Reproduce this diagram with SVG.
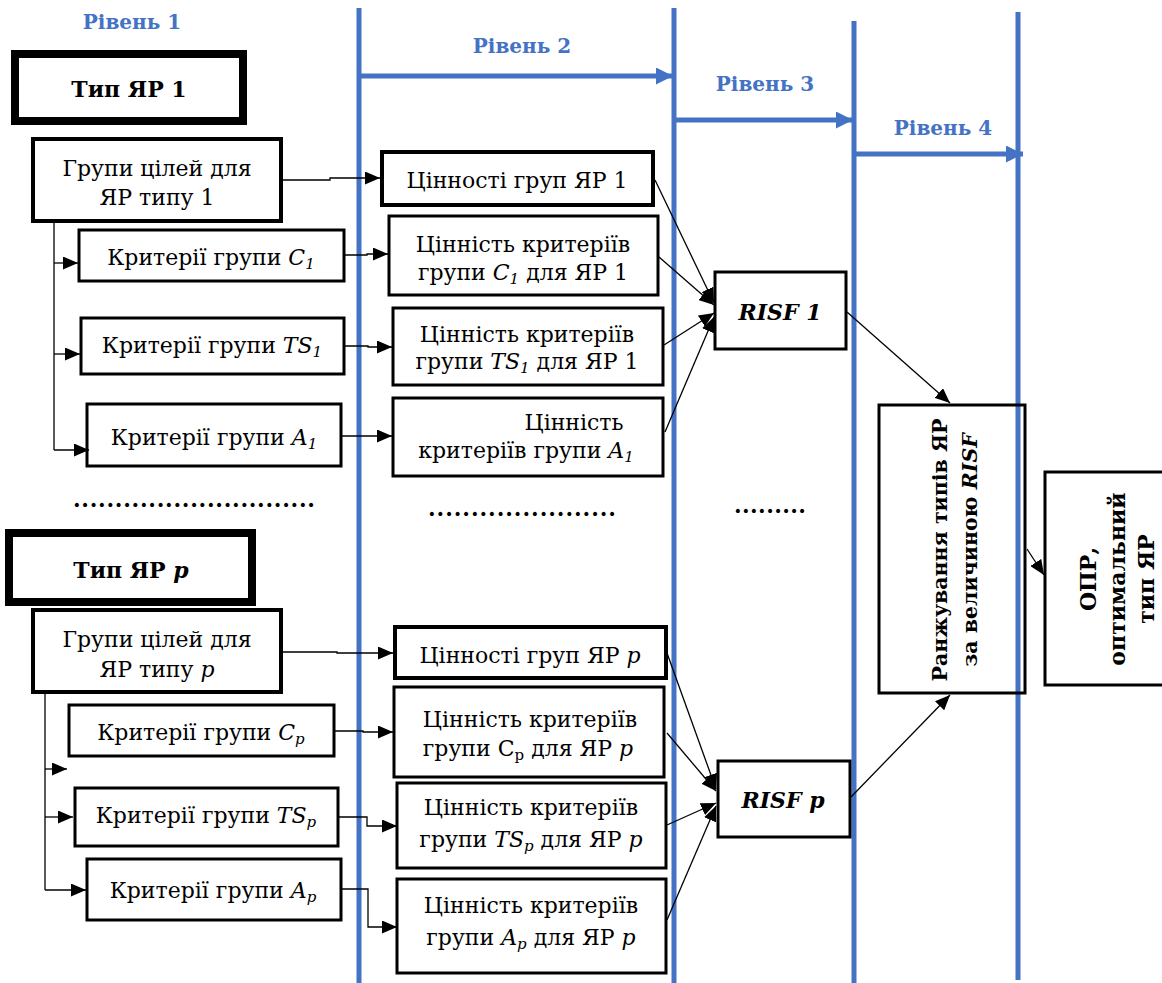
<svg xmlns="http://www.w3.org/2000/svg" width="1162" height="983" viewBox="0 0 1162 983">
<defs>
<style>
text{font-family:"DejaVu Serif","Liberation Serif",serif;font-size:22px;fill:#000;text-anchor:middle}
.lvl{font-weight:bold;fill:#4472C4;font-size:20px}
.b{font-weight:bold}
.i{font-style:italic}
.box{fill:#fff;stroke:#000;stroke-width:3}
.box4{fill:#fff;stroke:#000;stroke-width:4}
.thick{fill:#fff;stroke:#000;stroke-width:8}
.blue{stroke:#4472C4;stroke-width:5;fill:none}
.con{stroke:#000;stroke-width:1.3;fill:none}
.dots{font-weight:bold}
.rot{font-weight:bold;font-size:20.5px}
</style>
<marker id="arr" viewBox="0 0 10 10" refX="10" refY="5" markerWidth="15" markerHeight="13" markerUnits="userSpaceOnUse" orient="auto" preserveAspectRatio="none"><path d="M0,0 L10,5 L0,10 z" fill="#000"/></marker>
<marker id="barr" viewBox="0 0 10 10" refX="10" refY="5" markerWidth="17" markerHeight="17" markerUnits="userSpaceOnUse" orient="auto" preserveAspectRatio="none"><path d="M0,0 L10,5 L0,10 z" fill="#4472C4"/></marker>
</defs>
<rect width="1162" height="983" fill="#fff"/>

<g id="levels">
<line class="blue" x1="359" y1="8" x2="359" y2="983"/>
<line class="blue" x1="674" y1="8" x2="674" y2="983"/>
<line class="blue" x1="854" y1="21" x2="854" y2="983"/>
<line class="blue" x1="1018" y1="12" x2="1018" y2="980"/>
<line class="blue" x1="359" y1="76" x2="673" y2="76" marker-end="url(#barr)"/>
<line class="blue" x1="676" y1="120" x2="853" y2="120" marker-end="url(#barr)"/>
<line class="blue" x1="856" y1="154" x2="1023" y2="154" marker-end="url(#barr)"/>
<text class="lvl" x="132" y="29">Рівень 1</text>
<text class="lvl" x="522" y="53">Рівень 2</text>
<text class="lvl" x="765" y="91">Рівень 3</text>
<text class="lvl" x="943" y="135">Рівень 4</text>
</g>

<g id="type1">
<rect class="thick" x="15" y="54" width="228" height="67"/>
<text class="b" x="129" y="97">Тип ЯР 1</text>
</g>
<g id="goals1">
<rect class="box4" x="33" y="139" width="248" height="82"/>
<text x="157" y="176">Групи цілей для</text>
<text x="157" y="205">ЯР типу 1</text>
</g>
<g id="crit-c1">
<rect class="box" x="79" y="230" width="265" height="51"/>
<text x="211" y="265">Критерії групи <tspan class="i">C<tspan font-size="15" dy="4">1</tspan></tspan></text>
</g>
<g id="crit-ts1">
<rect class="box" x="81" y="318" width="263" height="56"/>
<text x="212" y="353">Критерії групи <tspan class="i">TS<tspan font-size="15" dy="4">1</tspan></tspan></text>
</g>
<g id="crit-a1">
<rect class="box" x="87" y="404" width="254" height="62"/>
<text x="214" y="445">Критерії групи <tspan class="i">A<tspan font-size="15" dy="4">1</tspan></tspan></text>
</g>
<g id="val1">
<rect class="box4" x="382" y="152" width="271" height="53"/>
<text x="517" y="188">Цінності груп ЯР 1</text>
</g>
<g id="val-c1">
<rect class="box" x="389" y="216" width="269" height="79"/>
<text x="523" y="252">Цінність критеріїв</text>
<text x="523" y="280">групи <tspan class="i">C<tspan font-size="15" dy="4">1</tspan></tspan><tspan dy="-4"> для ЯР 1</tspan></text>
</g>
<g id="val-ts1">
<rect class="box" x="393" y="308" width="270" height="77"/>
<text x="527" y="342">Цінність критеріїв</text>
<text x="527" y="369">групи <tspan class="i">TS<tspan font-size="15" dy="4">1</tspan></tspan><tspan dy="-4"> для ЯР 1</tspan></text>
</g>
<g id="val-a1">
<rect class="box" x="393" y="398" width="270" height="78"/>
<text x="574" y="430">Цінність</text>
<text x="526" y="458">критеріїв групи <tspan class="i">A<tspan font-size="15" dy="4">1</tspan></tspan></text>
</g>
<g id="risf1">
<rect class="box" x="715" y="272" width="131" height="77"/>
<text class="b i" x="780" y="320">RISF 1</text>
</g>

<g id="dots">
<text class="dots" x="194" y="507" textLength="242" lengthAdjust="spacing">.............................</text>
<text class="dots" x="522" y="516" textLength="188" lengthAdjust="spacing">......................</text>
<text class="dots" x="770" y="513" textLength="72" lengthAdjust="spacing">.........</text>
</g>

<g id="rank">
<rect x="879" y="405" width="146" height="288" fill="none" stroke="#000" stroke-width="3"/>
<text class="rot" transform="translate(947,550) rotate(-90)">Ранжування типів ЯР</text>
<text class="rot" transform="translate(977,550) rotate(-90)">за величиною <tspan class="i">RISF</tspan></text>
</g>
<g id="opr">
<rect class="box" x="1045" y="472" width="120" height="213"/>
<text class="b" font-size="23" transform="translate(1096,579) rotate(-90)">ОПР,</text>
<text class="b" font-size="20" transform="translate(1125,579) rotate(-90)">оптимальний</text>
<text class="b" font-size="21" transform="translate(1154,579) rotate(-90)">тип ЯР</text>
</g>

<g id="typep">
<rect class="thick" x="9" y="533" width="243" height="69"/>
<text class="b" x="131" y="578">Тип ЯР <tspan class="i">p</tspan></text>
</g>
<g id="goalsp">
<rect class="box4" x="33" y="610" width="248" height="82"/>
<text x="157" y="647">Групи цілей для</text>
<text x="157" y="677">ЯР типу <tspan class="i">p</tspan></text>
</g>
<g id="crit-cp">
<rect class="box" x="69" y="705" width="265" height="51"/>
<text x="201" y="740">Критерії групи <tspan class="i">C<tspan font-size="15" dy="4">p</tspan></tspan></text>
</g>
<g id="crit-tsp">
<rect class="box" x="75" y="788" width="263" height="58"/>
<text x="206" y="823">Критерії групи <tspan class="i">TS<tspan font-size="15" dy="4">p</tspan></tspan></text>
</g>
<g id="crit-ap">
<rect class="box" x="87" y="859" width="254" height="61"/>
<text x="213" y="898">Критерії групи <tspan class="i">A<tspan font-size="15" dy="4">p</tspan></tspan></text>
</g>
<g id="valp">
<rect class="box4" x="395" y="627" width="271" height="51"/>
<text x="530" y="663">Цінності груп ЯР <tspan class="i">p</tspan></text>
</g>
<g id="val-cp">
<rect class="box" x="394" y="687" width="270" height="90"/>
<text x="530" y="727">Цінність критеріїв</text>
<text x="528" y="756">групи С<tspan font-size="15" dy="4">р</tspan><tspan dy="-4"> для ЯР </tspan><tspan class="i">p</tspan></text>
</g>
<g id="val-tsp">
<rect class="box" x="397" y="783" width="269" height="85"/>
<text x="531" y="815">Цінність критеріїв</text>
<text x="531" y="847">групи <tspan class="i">TS<tspan font-size="15" dy="4">p</tspan></tspan><tspan dy="-4"> для ЯР </tspan><tspan class="i">p</tspan></text>
</g>
<g id="val-ap">
<rect class="box" x="397" y="879" width="269" height="94"/>
<text x="531" y="913">Цінність критеріїв</text>
<text x="531" y="945">групи <tspan class="i">A<tspan font-size="15" dy="4">p</tspan></tspan><tspan dy="-4"> для ЯР </tspan><tspan class="i">p</tspan></text>
</g>
<g id="risfp">
<rect class="box" x="718" y="761" width="132" height="76"/>
<text class="b i" x="783" y="808">RISF p</text>
</g>

<g id="connectors">
<polyline class="con" points="283,180 330,180 330,178 380,178" marker-end="url(#arr)"/>
<polyline class="con" points="54,223 54,450"/>
<line class="con" x1="54" y1="263" x2="78" y2="263" marker-end="url(#arr)"/>
<line class="con" x1="54" y1="354" x2="80" y2="354" marker-end="url(#arr)"/>
<line class="con" x1="54" y1="450" x2="89" y2="450" marker-end="url(#arr)"/>
<polyline class="con" points="345,255 367,255 367,254 388,254" marker-end="url(#arr)"/>
<polyline class="con" points="345,346 368,346 368,347 392,347" marker-end="url(#arr)"/>
<polyline class="con" points="342,436 368,436 392,436" marker-end="url(#arr)"/>
<line class="con" x1="655" y1="180" x2="714" y2="303" marker-end="url(#arr)"/>
<line class="con" x1="659" y1="257" x2="714" y2="305" marker-end="url(#arr)"/>
<line class="con" x1="664" y1="345" x2="714" y2="313" marker-end="url(#arr)"/>
<line class="con" x1="665" y1="432" x2="714" y2="317" marker-end="url(#arr)"/>
<line class="con" x1="847" y1="312" x2="950" y2="403" marker-end="url(#arr)"/>
<line class="con" x1="1027" y1="549" x2="1044" y2="575" marker-end="url(#arr)"/>
<line class="con" x1="851" y1="797" x2="950" y2="695" marker-end="url(#arr)"/>
<line class="con" x1="667" y1="653" x2="716" y2="789" marker-end="url(#arr)"/>
<line class="con" x1="667" y1="733" x2="716" y2="791" marker-end="url(#arr)"/>
<line class="con" x1="667" y1="825" x2="716" y2="803" marker-end="url(#arr)"/>
<line class="con" x1="667" y1="920" x2="716" y2="806" marker-end="url(#arr)"/>
<polyline class="con" points="283,652 337,652 337,653 393,653" marker-end="url(#arr)"/>
<polyline class="con" points="45,694 45,890"/>
<line class="con" x1="45" y1="769" x2="67" y2="769" marker-end="url(#arr)"/>
<line class="con" x1="45" y1="817" x2="73" y2="817" marker-end="url(#arr)"/>
<line class="con" x1="45" y1="890" x2="86" y2="890" marker-end="url(#arr)"/>
<polyline class="con" points="335,731 363,731 363,732 393,732" marker-end="url(#arr)"/>
<polyline class="con" points="339,817 367,817 367,826 397,826" marker-end="url(#arr)"/>
<polyline class="con" points="342,889 368,889 368,927 397,927" marker-end="url(#arr)"/>
</g>
</svg>
